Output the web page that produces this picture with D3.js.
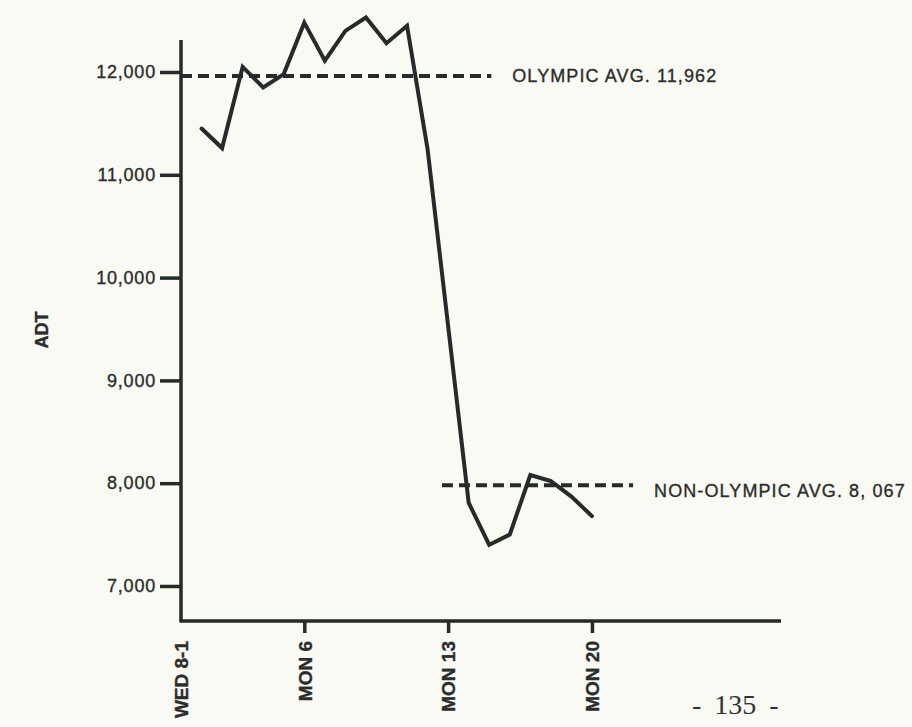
<!DOCTYPE html>
<html>
<head>
<meta charset="utf-8">
<script src="https://cdn.jsdelivr.net/npm/d3@7"></script>
<style>
  html, body { margin: 0; padding: 0; background: #fafaf4; }
  svg { display: block; }
</style>
</head>
<body>
<svg id="chart" width="912" height="727"></svg>
<script>
// ---- data ----
const days = [1, 2, 3, 4, 5, 6, 7, 8, 9, 10, 11, 12, 14, 15, 16, 17, 18, 19, 20];
const adt  = [11450, 11260, 12050, 11850, 11980, 12480, 12110, 12400, 12530, 12280, 12450, 11250,
              7810, 7400, 7500, 8080, 8020, 7870, 7680];

const yTickValues = [7000, 8000, 9000, 10000, 11000, 12000];
const yTickLabels = ["7,000", "8,000", "9,000", "10,000", "11,000", "12,000"];

const xTickDays   = [0, 6, 13, 20];
const xTickLabels = ["WED 8-1", "MON 6", "MON 13", "MON 20"];

const avgNames     = ["OLYMPIC AVG. 11,962", "NON-OLYMPIC AVG. 8, 067"];
const avgDrawnAt   = [11962, 7980];       // level where each dashed line sits in the picture
const avgSpanDays  = [[0, 15.1], [12.7, 22]];

const yAxisTitle = "ADT";
const pageNumber = "- 135 -";

// ---- layout ----
const ink = "#252b2a";
const textInk = "#2a2d2c";
const svg = d3.select("#chart");

const x = d3.scaleLinear().domain([0, 29.2]).range([181, 781]);
const y = d3.scaleLinear().domain([7000, 12000]).range([586, 72]);
const axisTop = 40, axisBottom = 621;

function scanText(sel) {
  return sel.attr("fill", textInk).attr("stroke", textInk).attr("stroke-width", 0.35);
}

// y axis
const yAxis = d3.axisLeft(y)
  .tickValues(yTickValues)
  .tickFormat((d, i) => yTickLabels[i])
  .tickSize(21)
  .tickPadding(4);
const gy = svg.append("g").attr("transform", `translate(${x.range()[0]},0)`).call(yAxis);
gy.select(".domain").remove();
gy.selectAll(".tick line").attr("stroke", ink).attr("stroke-width", 3.5);
scanText(gy.selectAll(".tick text"))
  .style("font-family", "'Liberation Sans', Arial, sans-serif")
  .style("font-size", "18px")
  .style("letter-spacing", "0.8px");

svg.append("line")
  .attr("x1", x.range()[0]).attr("x2", x.range()[0])
  .attr("y1", axisTop).attr("y2", axisBottom)
  .attr("stroke", ink).attr("stroke-width", 3.5);

// x axis
const xAxis = d3.axisBottom(x)
  .tickValues(xTickDays)
  .tickFormat((d, i) => xTickLabels[i])
  .tickSize(12)
  .tickSizeOuter(0);
const gx = svg.append("g").attr("transform", `translate(0,${axisBottom})`).call(xAxis);
gx.select(".domain").attr("stroke", ink).attr("stroke-width", 3.5)
  .attr("d", `M${x.range()[0] - 1.5},0H${x.range()[1]}`);
gx.selectAll(".tick line").attr("stroke", ink).attr("stroke-width", 3.5)
  .filter((d, i) => i === 0).remove();
scanText(gx.selectAll(".tick text"))
  .attr("transform", "rotate(-90)")
  .attr("text-anchor", "end")
  .attr("x", -20)
  .attr("y", 0)
  .attr("dy", "0.36em")
  .style("font-family", "'Liberation Sans', Arial, sans-serif")
  .style("font-weight", "bold")
  .style("font-size", "19px");

// y axis title
scanText(svg.append("text"))
  .attr("transform", `translate(42,330) rotate(-90)`)
  .attr("text-anchor", "middle")
  .attr("dy", "0.36em")
  .style("font-family", "'Liberation Sans', Arial, sans-serif")
  .style("font-weight", "bold")
  .style("font-size", "18px")
  .text(yAxisTitle);

// dashed average lines + labels
const avgG = svg.append("g");
avgNames.forEach((name, i) => {
  const [d0, d1] = avgSpanDays[i];
  avgG.append("line")
    .attr("x1", x(d0)).attr("x2", x(d1))
    .attr("y1", y(avgDrawnAt[i])).attr("y2", y(avgDrawnAt[i]))
    .attr("stroke", ink).attr("stroke-width", 4)
    .attr("stroke-dasharray", "11,6");
  scanText(avgG.append("text"))
    .attr("x", x(d1) + 21)
    .attr("y", y(avgDrawnAt[i]) + (i === 0 ? 0 : 5))
    .attr("dy", "0.36em")
    .style("font-family", "'Liberation Sans', Arial, sans-serif")
    .style("font-size", "18px")
    .style("letter-spacing", "1.1px")
    .text(name);
});

// data line
const line = d3.line()
  .x((d, i) => x(days[i]))
  .y(d => y(d));
svg.append("path")
  .datum(adt)
  .attr("d", line)
  .attr("fill", "none")
  .attr("stroke", ink)
  .attr("stroke-width", 4)
  .attr("stroke-linejoin", "miter")
  .attr("stroke-linecap", "round");

// page number
svg.append("text")
  .attr("x", 692).attr("y", 714)
  .attr("fill", "#333")
  .style("font-family", "'Liberation Serif', 'Times New Roman', serif")
  .style("font-size", "28px")
  .style("word-spacing", "6px")
  .text(pageNumber);
</script>
</body>
</html>
